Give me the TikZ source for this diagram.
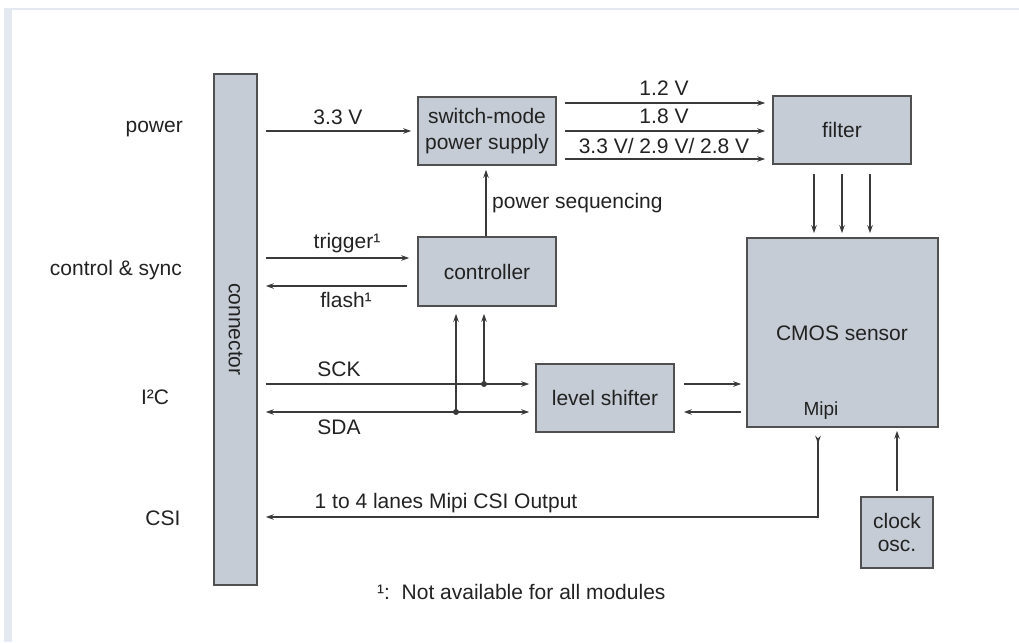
\documentclass[tikz,border=0pt]{standalone}
\usepackage{fontspec}
\setmainfont{Liberation Sans}
\usetikzlibrary{arrows.meta,calc}
\definecolor{boxfill}{HTML}{C5CCD5}
\definecolor{boxline}{HTML}{505050}
\definecolor{wire}{HTML}{3A3A3A}
\definecolor{framec}{HTML}{E3E8F1}
\definecolor{txt}{HTML}{222222}
\begin{document}
\begin{tikzpicture}[x=1pt,y=-1pt,
  blk/.style={draw=boxline, line width=1.6pt, fill=boxfill, inner sep=0pt, align=center, text=txt, font=\fontsize{21}{26.5}\selectfont},
  lbl/.style={inner sep=0pt, text=txt, font=\fontsize{21}{24}\selectfont},
  arr/.style={draw=wire, line width=1.3pt, -{Stealth[length=8pt,width=5.5pt]}},
  jdot/.style={circle, fill=wire, inner sep=0pt, minimum size=6pt},
]
\useasboundingbox (0,0) rectangle (1019,642);
\fill[framec] (4,8) rectangle (12,642);
\fill[framec] (4,8) rectangle (1019,10.5);

% blocks
\node[blk, rotate=-90, minimum width=511pt, minimum height=43pt] (conn) at (235.5,329.5) {connector};
\node[blk, minimum width=138pt, minimum height=68pt] (smps) at (487,131) {switch-mode\\power supply};
\node[blk, minimum width=138pt, minimum height=68pt] (filter) at (842,130) {filter};
\node[blk, minimum width=138pt, minimum height=69pt] (ctrl) at (487,271.5) {controller};
\node[blk, minimum width=138pt, minimum height=68pt] (ls) at (605,398) {level shifter};
\node[blk, minimum width=191pt, minimum height=189pt] (cmos) at (842.5,332.5) {};
\node[lbl] (cmostxt) at (842,333) {CMOS sensor};
\node[lbl, font=\fontsize{19}{20}\selectfont] (mipi) at (821,411) {Mipi};
\node[blk, minimum width=72pt, minimum height=71pt, font=\fontsize{21}{22.5}\selectfont] (clk) at (897,532.5) {clock\\osc.};

% left labels
\node[lbl, anchor=east] (lpower) at (183,129) {power};
\node[lbl, anchor=east] (lctrl) at (182,270) {control \& sync};
\node[lbl] (li2c) at (155,397) {I²C};
\node[lbl] (lcsi) at (163,518) {CSI};

% power
\draw[arr, shorten <=8pt, shorten >=6pt] (conn.north |- smps.west) -- (smps.west);
\node[lbl] (l33) at (338,117) {3.3 V};

% smps to filter
\draw[arr] ($(smps.east)+(8,-28)$) -- ($(filter.west)+(-7,-27)$);
\draw[arr] ($(smps.east)+(8,0)$) -- ($(filter.west)+(-7,1)$);
\draw[arr] ($(smps.east)+(8,28)$) -- ($(filter.west)+(-7,29)$);
\node[lbl] (l12) at (664,88) {1.2 V};
\node[lbl] (l18) at (664,116) {1.8 V};
\node[lbl] (l33b) at (664,146) {3.3 V/ 2.9 V/ 2.8 V};

% filter to sensor
\draw[arr] ($(filter.south)+(-28,9)$) -- ($(cmos.north)+(-28.5,-4)$);
\draw[arr] ($(filter.south)+(0,9)$) -- ($(cmos.north)+(-0.5,-4)$);
\draw[arr] ($(filter.south)+(28,9)$) -- ($(cmos.north)+(27.5,-4)$);

% power sequencing
\draw[arr, shorten >=4pt] ($(ctrl.north)+(-1,0)$) -- ($(smps.south)+(-1,0)$);
\node[lbl, anchor=west] (lseq) at (492,203) {power sequencing};

% trigger / flash
\coordinate (trg) at ($(ctrl.west)+(0,-13.5)$);
\coordinate (fls) at ($(ctrl.west)+(0,14.5)$);
\draw[arr, shorten <=8pt, shorten >=8pt] (trg -| conn.north) -- (trg);
\draw[arr, shorten <=10pt, shorten >=8pt] (fls) -- (fls -| conn.north);
\node[lbl] (ltrg) at (347,243) {trigger¹};
\node[lbl] (lfls) at (346,300) {flash¹};

% I2C
\coordinate (sck) at ($(ls.west)+(0,-14)$);
\coordinate (sda) at ($(ls.west)+(0,14)$);
\draw[arr, shorten <=8pt, shorten >=6pt] (sck -| conn.north) -- (sck);
\draw[arr, {Stealth[length=8pt,width=5.5pt]}-{Stealth[length=8pt,width=5.5pt]}, shorten <=8pt, shorten >=6pt] (sda -| conn.north) -- (sda);
\node[jdot] (d1) at (484,384) {};
\node[jdot] (d2) at (456,412) {};
\draw[arr, shorten >=7pt] (d1.center) -- (d1.center |- ctrl.south);
\draw[arr, shorten >=7pt] (d2.center) -- (d2.center |- ctrl.south);
\node[lbl] (lsck) at (339,369) {SCK};
\node[lbl] (lsda) at (339,427) {SDA};

% level shifter <-> sensor
\draw[arr, shorten <=9pt, shorten >=5pt] (sck -| ls.east) -- (sck -| cmos.west);
\draw[arr, shorten <=5pt, shorten >=9pt] (sda -| cmos.west) -- (sda -| ls.east);

% Mipi output
\coordinate (mipib) at (818,517);
\draw[draw=wire, line width=1.3pt, {Stealth[length=8pt,width=5.5pt,reversed]}-{Stealth[length=8pt,width=5.5pt]}, shorten <=8pt, shorten >=8pt]
  (mipib |- cmos.south) -- (mipib) -- (mipib -| conn.north);
\node[lbl] (lcsiout) at (446,503) {1 to 4 lanes Mipi CSI Output};

% clock
\draw[arr, shorten <=5pt, shorten >=3pt] (clk.north) -- (clk.north |- cmos.south);

% footnote
\node[lbl, anchor=west] (fn) at (377,592) {¹:\ \ Not available for all modules};
\end{tikzpicture}
\end{document}
